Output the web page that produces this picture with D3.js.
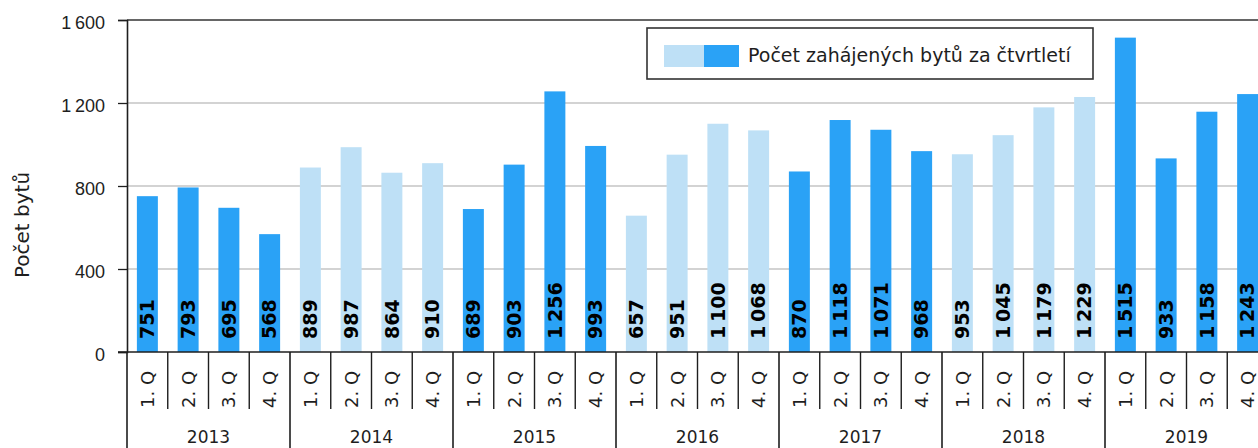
<!DOCTYPE html>
<html>
<head>
<meta charset="utf-8">
<script src="https://cdn.jsdelivr.net/npm/d3@7"></script>
<style>
  body { margin: 0; background: #fff; }
  svg { display: block; font-family: "DejaVu Sans", sans-serif; }
</style>
</head>
<body>
<div id="chart"></div>
<script>
// Data
const years = ["2013", "2014", "2015", "2016", "2017", "2018", "2019"];
const quarters = ["1. Q", "2. Q", "3. Q", "4. Q"];
const values = [
    751, 793, 695, 568,
    889, 987, 864, 910,
    689, 903, 1256, 993,
    657, 951, 1100, 1068,
    870, 1118, 1071, 968,
    953, 1045, 1179, 1229,
    1515, 933, 1158, 1243
];
const yTicks = [0, 400, 800, 1200, 1600];
const legendLabel = "Počet zahájených bytů za čtvrtletí";
const yTitle = "Počet bytů";

const W = 1258, H = 448;
const margin = {top: 20, left: 127};
const plotH = 332;
const bandW = 40.75;
const plotW = bandW * values.length;

const dark = "#2aa2f6", light = "#bee0f6";
const ink = "#1e1e1e";

// czech style number format (space as thousands separator)
const fmt = d3.formatLocale({decimal: ",", thousands: "\u2009", grouping: [3], currency: ["", ""]}).format(",d");
const fmtAxis = d3.formatLocale({decimal: ",", thousands: "\u2009", grouping: [3], currency: ["", ""]}).format(",d");

const rows = values.map((v, i) => ({
    key: i,
    yi: Math.floor(i / 4),
    q: quarters[i % 4],
    value: v
}));

const svg = d3.select("#chart").append("svg")
    .attr("width", W).attr("height", H);

const g = svg.append("g").attr("transform", `translate(${margin.left},${margin.top})`);

const x = d3.scaleBand().domain(rows.map(d => d.key)).range([0, plotW]).paddingInner(0.485).paddingOuter(0.2425);
const y = d3.scaleLinear().domain([0, 1600]).range([plotH, 0]);
const step = x.step();

// grid
g.selectAll(".grid").data(yTicks.filter(t => t > 0 && t < 1600)).enter()
    .append("line")
    .attr("x1", 0).attr("x2", plotW)
    .attr("y1", d => y(d)).attr("y2", d => y(d))
    .attr("stroke", "#c4c4c4").attr("stroke-width", 1.3);

// top border
g.append("line").attr("x1", 0).attr("x2", plotW).attr("y1", 0).attr("y2", 0)
    .attr("stroke", "#333").attr("stroke-width", 1.3);

// bars
g.selectAll(".bar").data(rows).enter().append("rect")
    .attr("x", d => x(d.key))
    .attr("width", x.bandwidth())
    .attr("y", d => y(d.value))
    .attr("height", d => plotH - y(d.value))
    .attr("fill", d => d.yi % 2 === 0 ? dark : light);

// value labels
g.selectAll(".val").data(rows).enter().append("text")
    .attr("transform", d => `translate(${x(d.key) + x.bandwidth() / 2 + 6.8},${plotH - 13}) rotate(-90)`)
    .attr("font-size", 19).attr("font-weight", "bold").attr("fill", "#000")
    .text(d => fmt(d.value));

// y axis
const yAxis = g.append("g")
    .call(d3.axisLeft(y).tickValues(yTicks).tickSize(9).tickPadding(13).tickFormat(fmtAxis));
yAxis.select(".domain").attr("stroke", ink).attr("stroke-width", 1.6);
yAxis.selectAll(".tick line").attr("stroke", ink).attr("stroke-width", 1.3);
yAxis.selectAll("text").attr("font-size", 18).attr("fill", ink)
    .attr("font-family", "inherit").attr("dy", "0.45em");

// x baseline
g.append("line").attr("x1", -9).attr("x2", plotW).attr("y1", plotH).attr("y2", plotH)
    .attr("stroke", ink).attr("stroke-width", 1.6);

// quarter separators
g.selectAll(".qsep").data(rows.filter(d => d.key % 4 !== 0)).enter().append("line")
    .attr("x1", d => d.key * step)
    .attr("x2", d => d.key * step)
    .attr("y1", plotH).attr("y2", plotH + 57)
    .attr("stroke", ink).attr("stroke-width", 1.4);

// year separators
g.selectAll(".ysep").data(d3.range(years.length + 1)).enter().append("line")
    .attr("x1", d => d * 4 * step)
    .attr("x2", d => d * 4 * step)
    .attr("y1", plotH).attr("y2", H)
    .attr("stroke", ink).attr("stroke-width", 1.6);

// quarter labels
g.selectAll(".ql").data(rows).enter().append("text")
    .attr("transform", d => `translate(${x(d.key) + x.bandwidth() / 2 + 6.5},${plotH + 56}) rotate(-90)`)
    .attr("font-size", 18).attr("fill", ink)
    .text(d => d.q);

// year labels
g.selectAll(".yl").data(years).enter().append("text")
    .attr("x", (d, i) => (i + 0.5) * 4 * step)
    .attr("y", 423)
    .attr("text-anchor", "middle")
    .attr("font-size", 17).attr("fill", ink)
    .text(d => d);

// y title
svg.append("text")
    .attr("transform", "translate(29,225) rotate(-90)")
    .attr("text-anchor", "middle")
    .attr("font-size", 20).attr("fill", ink)
    .text(yTitle);

// legend
const lg = svg.append("g").attr("transform", "translate(647,28)");
lg.append("rect").attr("width", 446).attr("height", 51)
    .attr("fill", "#fff").attr("stroke", "#333").attr("stroke-width", 1.6);
lg.append("rect").attr("x", 17).attr("y", 17).attr("width", 40).attr("height", 22).attr("fill", light);
lg.append("rect").attr("x", 57).attr("y", 17).attr("width", 35).attr("height", 22).attr("fill", dark);
lg.append("text").attr("x", 101).attr("y", 34)
    .attr("font-size", 19).attr("fill", ink)
    .text(legendLabel);
</script>
</body>
</html>
